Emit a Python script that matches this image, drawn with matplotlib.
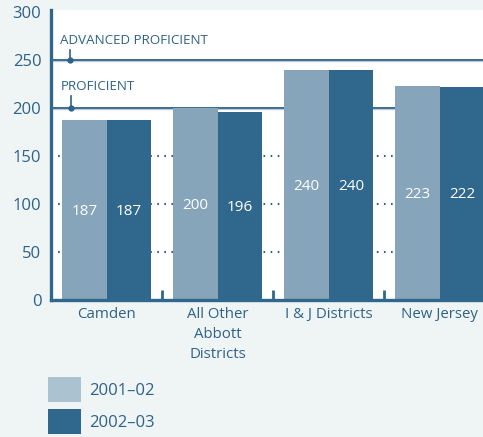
import numpy as np
import matplotlib.pyplot as plt
from matplotlib.patches import Patch

# Mean scale scores by district group
categories = ["Camden", "All Other\nAbbott\nDistricts", "I & J Districts", "New Jersey"]
scores_2001 = [187, 200, 240, 223]
scores_2002 = [187, 196, 240, 222]
years = ["2001\u201302", "2002\u201303"]

dark = "#30678c"
light = "#86a5bb"
text_col = "#2e6289"
bg = "#eff4f4"

plt.rcParams["font.family"] = ["Open Sans", "DejaVu Sans"]

fig = plt.figure(figsize=(4.83, 4.37), dpi=100, facecolor=bg)
ax = fig.add_axes([51 / 483, 137 / 437, 1 - 51 / 483, 290 / 437])
ax.set_facecolor("white")

x = np.arange(len(categories))
w = 0.4

# dotted guides in the gaps, solid benchmark lines
for yv in [50, 100, 150]:
    ax.axhline(yv, color=text_col, lw=1.5, linestyle=(0, (0.8, 2.6)), zorder=1)
for yv in [200, 250]:
    ax.axhline(yv - 1.3, color="#bccdd9", lw=1.0, zorder=1)
    ax.axhline(yv, color=text_col, lw=1.3, zorder=1)

b1 = ax.bar(x - w / 2, scores_2001, w, color=light, zorder=2)
b2 = ax.bar(x + w / 2, scores_2002, w, color=dark, zorder=2)

for bars, vals in [(b1, scores_2001), (b2, scores_2002)]:
    for b, v in zip(bars, vals):
        ax.text(b.get_x() + b.get_width() / 2, v / 2 - 1.5, str(v), color="white",
                ha="center", va="center", fontsize=11, zorder=3)

# benchmark callouts
ax.plot([-0.33, -0.33], [250, 260], color=text_col, lw=1.2, zorder=3)
ax.plot(-0.33, 250, "o", color=text_col, ms=3.5, zorder=3)
ax.text(-0.42, 263.5, "ADVANCED PROFICIENT", color=text_col, fontsize=9.6, va="bottom", ha="left")
ax.plot([-0.32, -0.32], [200, 212], color=text_col, lw=1.2, zorder=3)
ax.plot(-0.32, 200, "o", color=text_col, ms=3.5, zorder=3)
ax.text(-0.41, 215.5, "PROFICIENT", color=text_col, fontsize=9.6, va="bottom", ha="left")

ax.set_xlim(-0.5, 3.39)
ax.set_ylim(0, 302)
ax.set_yticks([0, 50, 100, 150, 200, 250, 300])
ax.tick_params(axis="y", length=0, labelsize=12, labelcolor=text_col, pad=7)

# category names centred under groups, separator ticks between groups
ax.set_xticks(x)
ax.set_xticklabels(categories, fontsize=10.8, color=text_col, linespacing=1.45)
ax.tick_params(axis="x", which="major", length=0, pad=5)
ax.set_xticks([0.5, 1.5, 2.5], minor=True)
ax.tick_params(axis="x", which="minor", direction="in", length=7, width=2, color=dark)

for s in ["top", "right"]:
    ax.spines[s].set_visible(False)
for s in ["left", "bottom"]:
    ax.spines[s].set_color(dark)
    ax.spines[s].set_linewidth(2.4)

handles = [Patch(facecolor="#abc2d0"), Patch(facecolor=dark)]
fig.legend(handles, years, loc="upper left", bbox_to_anchor=(48 / 483, 1 - 377 / 437),
           frameon=False, fontsize=12, labelcolor=text_col, handlelength=2.0,
           handleheight=1.95, labelspacing=0.4, handletextpad=0.45,
           borderpad=0, borderaxespad=0)

fig.savefig("out.png", dpi=100, facecolor=bg)
